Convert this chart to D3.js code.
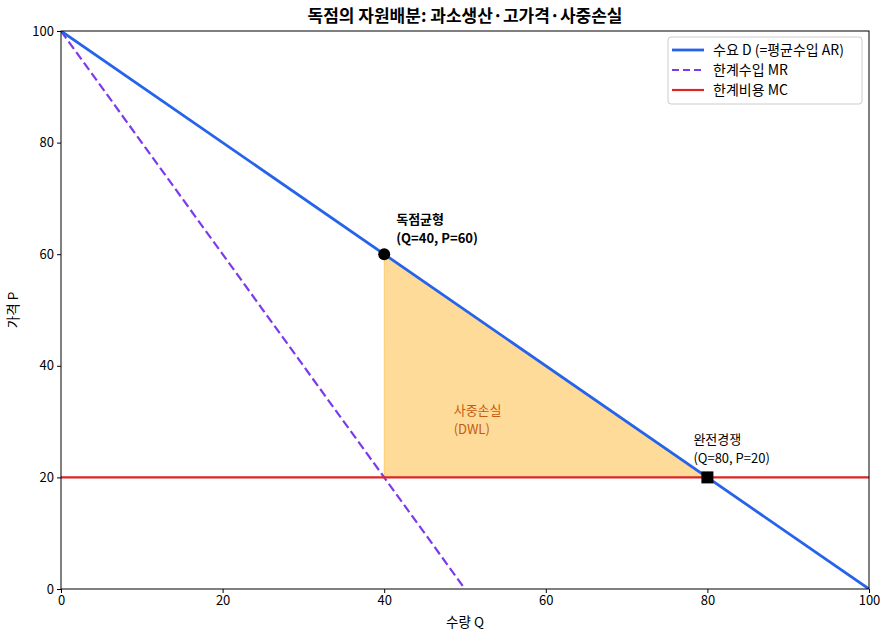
<!DOCTYPE html>
<html><head><meta charset="utf-8">
<script src="https://cdn.jsdelivr.net/npm/d3@7"></script>
<style>
body{margin:0;background:#fff;}
text{font-family:"Noto Sans CJK KR","Noto Sans",sans-serif;}
</style></head>
<body><svg id="c" width="889" height="640"></svg>
<script>
const qDomain=[0,100], pDomain=[0,100];
const ticks=[0,20,40,60,80,100];
const demandQ=[0,100], demandP=[100,0];
const mrQ=[0,50], mrP=[100,0];
const mcQ=[0,100], mcP=[20,20];
const dwlQ=[40,40,80], dwlP=[60,20,20];
const monopoly={q:40,p:60}, competitive={q:80,p:20};
const legendLabels=["수요 D (=평균수입 AR)","한계수입 MR","한계비용 MC"];

const svg=d3.select("#c");
const L=61,R=869,T=31,B=589;
const x=d3.scaleLinear().domain(qDomain).range([L,R]);
const y=d3.scaleLinear().domain(pDomain).range([B,T]);

svg.append("clipPath").attr("id","clip").append("rect").attr("x",L).attr("y",T).attr("width",R-L).attr("height",B-T);
const g=svg.append("g").attr("clip-path","url(#clip)");

const pts=(qs,ps)=>qs.map((q,i)=>[x(q),y(ps[i])]);
const line=d3.line();

g.append("path").attr("d",line(pts(dwlQ,dwlP))+"Z").attr("fill","orange").attr("fill-opacity",0.4).attr("stroke","orange").attr("stroke-opacity",0.4).attr("stroke-width",1);
g.append("path").attr("d",line(pts(mrQ,mrP))).attr("fill","none").attr("stroke","#7c3aed").attr("stroke-width",2.2).attr("stroke-dasharray","9,4");
g.append("path").attr("d",line(pts(mcQ,mcP))).attr("fill","none").attr("stroke","#dc2626").attr("stroke-width",2.2);
g.append("path").attr("d",line(pts(demandQ,demandP))).attr("fill","none").attr("stroke","#2563eb").attr("stroke-width",2.8);

svg.append("circle").attr("cx",x(monopoly.q)).attr("cy",y(monopoly.p)).attr("r",6).attr("fill","#000");
svg.append("rect").attr("x",x(competitive.q)-6).attr("y",y(competitive.p)-6).attr("width",12).attr("height",12).attr("fill","#000");

// axes
const xa=svg.append("g").attr("transform",`translate(0,${B})`).call(d3.axisBottom(x).tickValues(ticks).tickSize(4).tickPadding(3));
const ya=svg.append("g").attr("transform",`translate(${L},0)`).call(d3.axisLeft(y).tickValues(ticks).tickSize(4).tickPadding(3));
[xa,ya].forEach(a=>{a.select(".domain").remove();a.selectAll("text").attr("font-size",13).attr("fill","#000").style("font-family","'Noto Sans CJK KR',sans-serif");a.selectAll("line").attr("stroke","#000");});
svg.append("rect").attr("x",L).attr("y",T).attr("width",R-L).attr("height",B-T).attr("fill","none").attr("stroke","#000").attr("stroke-width",1);

// labels
svg.append("text").attr("x",(L+R)/2).attr("y",22).attr("text-anchor","middle").attr("font-size",17).attr("font-weight","bold").text("독점의 자원배분: 과소생산·고가격·사중손실");
svg.append("text").attr("x",(L+R)/2).attr("y",627).attr("text-anchor","middle").attr("font-size",13.5).text("수량 Q");
svg.append("text").attr("transform",`translate(18,${(T+B)/2}) rotate(-90)`).attr("text-anchor","middle").attr("font-size",13.5).text("가격 P");

// annotations (two separate lines each)
function twoLines(px,py,l1,l2,opts){
  [l1,l2].forEach((t,i)=>{
    svg.append("text").attr("x",px).attr("y",py+i*19).attr("font-size",opts.size)
      .attr("font-weight",opts.weight||"normal").attr("fill",opts.fill||"#000").text(t);
  });
}
twoLines(x(monopoly.q)+12,y(monopoly.p)-30,"독점균형","(Q=40, P=60)",{size:13,weight:"bold"});
twoLines(x(48.6),y(31.2),"사중손실","(DWL)",{size:13,fill:"#c55a11"});
twoLines(x(competitive.q)-14,y(competitive.p)-33,"완전경쟁","(Q=80, P=20)",{size:13});

// legend
const lg=svg.append("g").attr("transform","translate(668,37)");
lg.append("rect").attr("width",194).attr("height",67).attr("rx",3).attr("fill","#fff").attr("stroke","#ccc");
const styles=[{c:"#2563eb",d:null,w:2.8},{c:"#7c3aed",d:"7,4",w:2.2},{c:"#dc2626",d:null,w:2.2}];
legendLabels.forEach((t,i)=>{
  const yy=13+i*20;
  lg.append("line").attr("x1",4).attr("x2",36).attr("y1",yy).attr("y2",yy).attr("stroke",styles[i].c).attr("stroke-width",styles[i].w).attr("stroke-dasharray",styles[i].d);
  lg.append("text").attr("x",45).attr("y",yy+5).attr("font-size",14).text(t);
});
</script></body></html>
